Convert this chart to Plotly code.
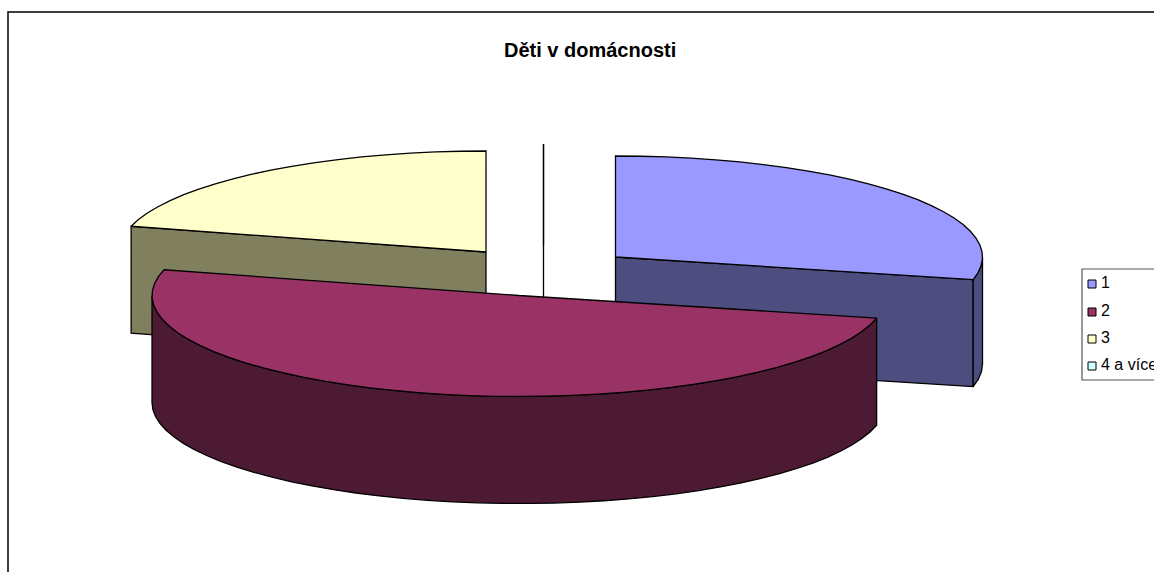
import math
import plotly.graph_objects as go

# ---- data ----
categories = ["1", "2", "3", "4 a více"]
shares = [28.6, 50.5, 20.9, 0.0]
title_text = "Děti v domácnosti"

# ---- style ----
top_colors = ["#9999FF", "#993366", "#FFFFCC", "#CCFFFF"]
side_colors = ["#4D4D80", "#4D1A33", "#80805F", "#668080"]
FONT = "Liberation Sans, Arial, sans-serif"
W, H = 1154, 572

# ---- projection of the tilted, exploded pie ----
centres = [(615.5, 257), (519, 295.5), (486, 252), (543.5, 245)]
RX, RY, DEPTH = 367, 101, 107
draw_order = [2, 3, 0, 1]
legend_y = [284, 312, 339, 366]


def rim(c, a, dy=0):
    t = math.radians(a)
    return c[0] + RX * math.sin(t), c[1] - RY * math.cos(t) + dy


def arc(c, a0, a1, dy=0, step=4):
    if a1 <= a0:
        return [rim(c, a0, dy)]
    n = max(1, round((a1 - a0) / step))
    return [rim(c, a0 + (a1 - a0) * i / n, dy) for i in range(n + 1)]


def poly(points, color, name):
    xs = [p[0] for p in points] + [points[0][0]]
    ys = [p[1] for p in points] + [points[0][1]]
    return go.Scatter(x=xs, y=ys, mode="lines", fill="toself", fillcolor=color,
                      line=dict(color="black", width=1.3, simplify=False), name=name,
                      hoverinfo="skip", showlegend=False)


bounds = []
acc = 0.0
for v in shares:
    a0 = acc / sum(shares) * 360
    acc += v
    bounds.append((a0, acc / sum(shares) * 360))

fig = go.Figure()
for i in draw_order:
    c = centres[i]
    a0, a1 = bounds[i]
    name = categories[i]
    # visible radial cut faces
    if a0 >= 180:
        p = rim(c, a0)
        fig.add_trace(poly([c, p, (p[0], p[1] + DEPTH), (c[0], c[1] + DEPTH)], side_colors[i], name))
    if a1 <= 180 and a1 > 0:
        p = rim(c, a1)
        fig.add_trace(poly([c, p, (p[0], p[1] + DEPTH), (c[0], c[1] + DEPTH)], side_colors[i], name))
    # visible outer wall (front half of the rim)
    f0, f1 = max(a0, 90), min(a1, 270)
    if f1 > f0:
        fig.add_trace(poly(arc(c, f0, f1) + arc(c, f0, f1, DEPTH)[::-1], side_colors[i], name))
    # top face
    fig.add_trace(poly([c] + arc(c, a0, a1), top_colors[i], name))

# legend entries
for i, name in enumerate(categories):
    fig.add_trace(go.Scatter(
        x=[1092], y=[legend_y[i]], mode="markers", name=name,
        hoverinfo="skip", showlegend=False,
        marker=dict(symbol="square", size=8, color=top_colors[i],
                    line=dict(color="black", width=1)),
    ))
    fig.add_trace(go.Scatter(
        x=[1101], y=[legend_y[i]], mode="text", text=[name],
        textposition="middle right", name=name, hoverinfo="skip", showlegend=False,
        textfont=dict(family=FONT, size=16, color="black"),
    ))

fig.update_layout(
    width=W, height=H, margin=dict(l=0, r=0, t=0, b=0),
    paper_bgcolor="white", plot_bgcolor="white", showlegend=False,
    xaxis=dict(range=[0, W], visible=False, fixedrange=True),
    yaxis=dict(range=[H, 0], visible=False, fixedrange=True),
    shapes=[
        dict(type="rect", x0=8, y0=12, x1=W + 10, y1=H + 10,
             line=dict(color="black", width=1.5), layer="below"),
        dict(type="rect", x0=1082, y0=269, x1=W + 10, y1=380,
             line=dict(color="#555555", width=1.2), layer="below"),
    ],
    annotations=[dict(text="<b>%s</b>" % title_text, x=590, y=50, xref="x", yref="y",
                      showarrow=False, font=dict(family=FONT, size=20, color="black"))],
)
fig.write_html("out.html", config={"displayModeBar": False},
               post_script="document.body.style.margin='0';document.body.style.overflow='hidden';")
